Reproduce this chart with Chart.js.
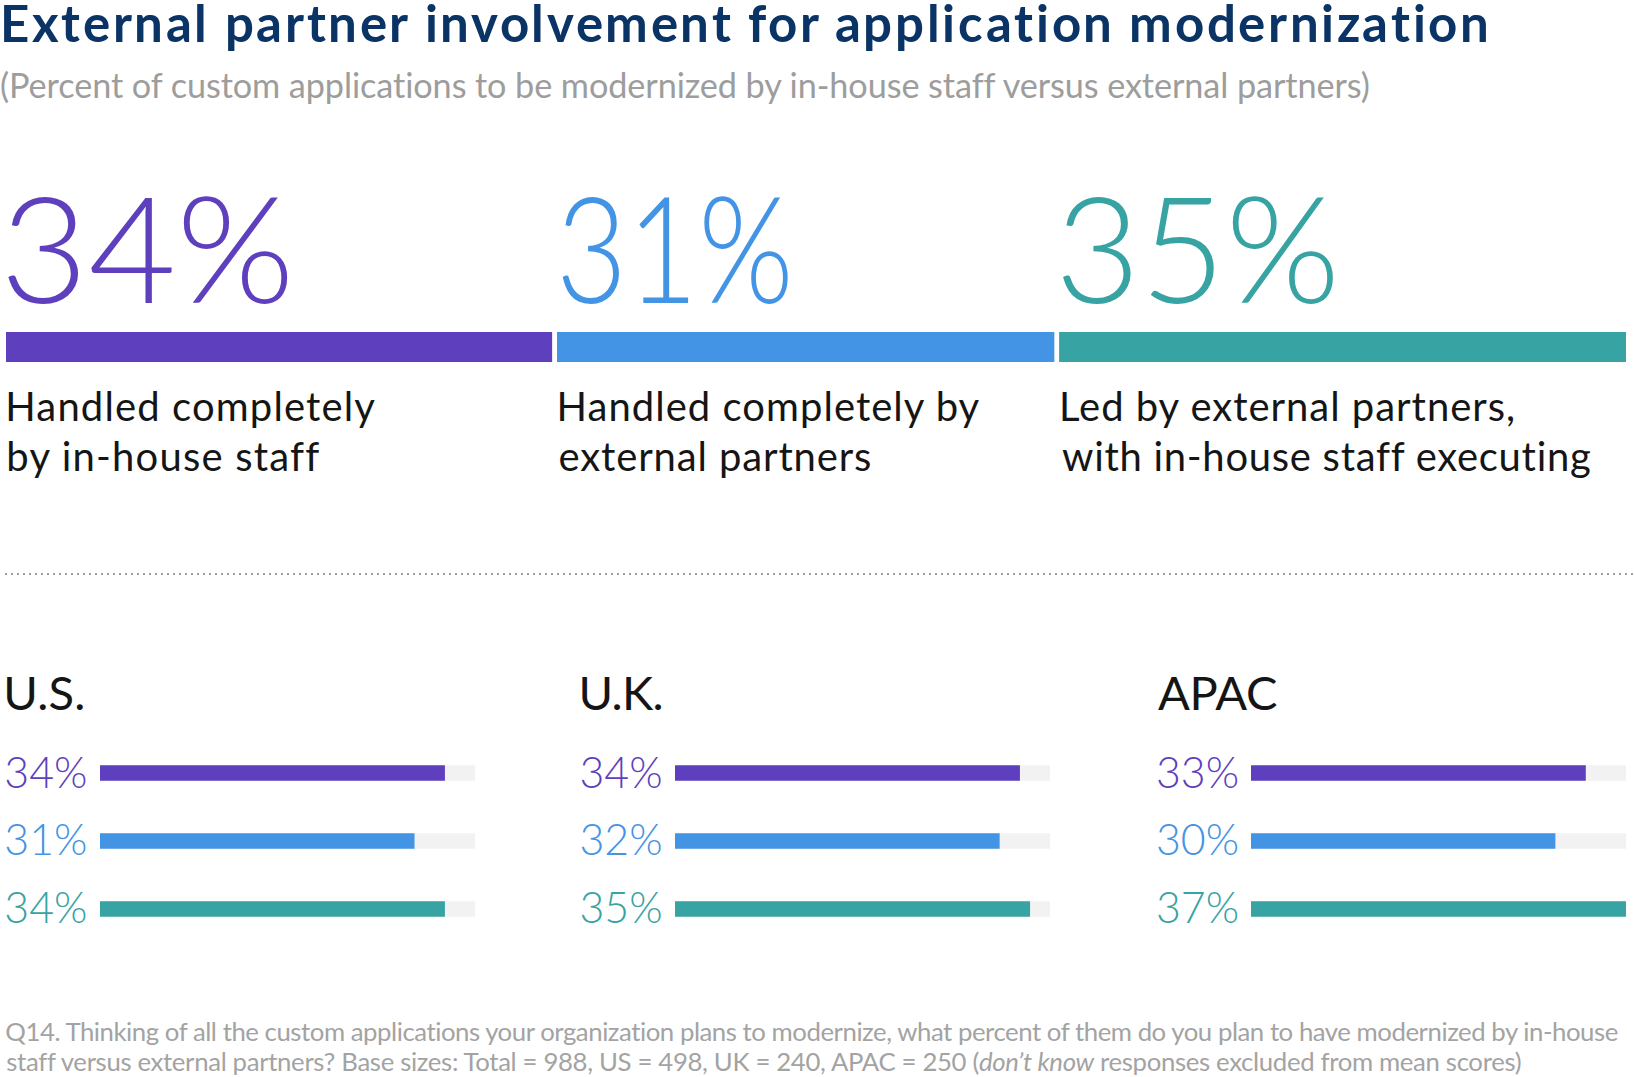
<!DOCTYPE html>
<html><head><meta charset="utf-8">
<script src="https://cdn.jsdelivr.net/npm/chart.js@4.4.1/dist/chart.umd.min.js"></script>
<style>
@font-face{font-family:'LatoTitle';src:local('Lato Bold'),local('Lato-Bold');font-weight:700;ascent-override:66%;descent-override:22%;line-gap-override:0%;}
html,body{margin:0;padding:0;background:#fff;}
#page{position:relative;width:1634px;height:1077px;overflow:hidden;font-family:Lato,sans-serif;background:#fff;}
.t{position:absolute;white-space:nowrap;margin:0;padding:0;transform-origin:0 0;}
canvas{position:absolute;display:block;}
#dots{position:absolute;left:5px;top:573px;width:1629px;height:2px;background:repeating-linear-gradient(to right,#a0a0a0 0 2px,transparent 2px 6px);}
</style></head><body><div id="page"><div id="dots"></div></div>
<script>
// ---------- data ----------
const titleText = "External partner involvement for application modernization";
const subtitleText = "(Percent of custom applications to be modernized by in-house staff versus external partners)";
const categoryLines = [
  ["Handled completely", "by in-house staff"],
  ["Handled completely by", "external partners"],
  ["Led by external partners,", "with in-house staff executing"]
];
const totalValues = [34, 31, 35];
const regionNames = ["U.S.", "U.K.", "APAC"];
const usValues = [34, 31, 34];
const ukValues = [34, 32, 35];
const apacValues = [33, 30, 37];
const trackValues = [37, 37, 37];
const scaleMax = 37;
const seriesColors = ["#5e40be", "#4394e5", "#37a3a3"];
const footnoteLine1 = "Q14. Thinking of all the custom applications your organization plans to modernize, what percent of them do you plan to have modernized by in-house";
const footnoteLine2 = [
  {t: "staff versus external partners? Base sizes: Total = 988, US = 498, UK = 240, APAC = 250 ("},
  {t: "don\u2019t know", i: true},
  {t: " responses excluded from mean scores)"}
];

// ---------- helpers ----------
const page = document.getElementById('page');
const mctx = document.createElement('canvas').getContext('2d');
function place(parts, o) {
  if (typeof parts === 'string') parts = [{t: parts}];
  const full = parts.map(p => p.t).join('');
  const wt = o.weight || 400;
  const fam = o.family || 'Lato';
  const lh = o.lh || 1;
  mctx.font = `${wt} 100px ${fam}`;
  const capR = mctx.measureText(o.capChar || 'H').actualBoundingBoxAscent / 100;
  const fs = o.cap / capR;
  mctx.font = `${wt} ${fs}px ${fam}`;
  const m = mctx.measureText(full);
  const A = m.fontBoundingBoxAscent, D = m.fontBoundingBoxDescent;
  const inkL = -m.actualBoundingBoxLeft;
  let inkW = m.actualBoundingBoxLeft + m.actualBoundingBoxRight;
  if (parts.length > 1) {
    let adv = 0;
    parts.forEach(p => {
      mctx.font = `${p.i ? 'italic ' : ''}${wt} ${fs}px ${fam}`;
      adv += mctx.measureText(p.t).width;
    });
    inkW = adv - inkL;
  }
  const n = [...full].length;
  let ls = 0, sx = 1;
  let left = o.x - inkL;
  let target = o.w;
  if (left < 0) { if (target) target -= -left; left = 0; }
  if (target && o.stretch) sx = target / inkW;
  else if (target) ls = (target - inkW) / (n - 1);
  if (o.stretch) left = Math.max(0, o.x - inkL * sx);
  const el = document.createElement('div');
  el.className = 't';
  el.style.fontFamily = fam;
  el.style.fontWeight = wt;
  el.style.fontSize = fs + 'px';
  el.style.lineHeight = (lh * fs) + 'px';
  el.style.color = o.color || '#151515';
  el.style.letterSpacing = ls + 'px';
  if (sx !== 1) el.style.transform = `scaleX(${sx})`;
  el.style.left = left + 'px';
  el.style.top = (o.base - ((lh * fs - (A + D)) / 2 + A)) + 'px';
  parts.forEach(p => {
    const s = document.createElement('span');
    s.textContent = p.t;
    if (p.i) s.style.fontStyle = 'italic';
    el.appendChild(s);
  });
  page.appendChild(el);
  return el;
}

function addCanvas(left, top, w, h) {
  const c = document.createElement('canvas');
  c.width = w; c.height = h;
  c.style.left = left + 'px'; c.style.top = top + 'px';
  c.style.width = w + 'px'; c.style.height = h + 'px';
  page.appendChild(c);
  return c;
}

const common = {
  indexAxis: 'y', responsive: false, animation: false, events: [],
  plugins: {legend: {display: false}, tooltip: {enabled: false}, title: {display: false}},
  layout: {padding: 0}
};

function build(titleFam) {
  // ---------- texts ----------
  place(titleText, {x: 1, base: 42.7, cap: 36.7, w: 1489, weight: 700, color: '#0b3466', lh: 0.8, family: titleFam});
  place(subtitleText, {x: 1, base: 99, cap: 25, w: 1370, weight: 400, color: '#9d9d9d'});

  const bigX = [8.3, 562.7, 1063];
  const bigW = [279, 225, 270];
  totalValues.forEach((v, i) => {
    place(v + '%', {x: bigX[i], base: 304, cap: 108, w: bigW[i], weight: 300, color: seriesColors[i], capChar: '3', stretch: true});
  });

  const labX = [8.3, 559.6, 1062];
  const labW = [[367, 311], [421, 310.5], [452, 528]];
  categoryLines.forEach((lines, i) => {
    lines.forEach((ln, j) => {
      place(ln, {x: labX[i], base: 421 + j * 50, cap: 29.2, w: labW[i][j], weight: 400, color: '#151515'});
    });
  });

  const regX = [6.3, 581.5, 1158];
  const regW = [77, 80, 119];
  const regionVals = [usValues, ukValues, apacValues];
  regionNames.forEach((r, i) => {
    place(r, {x: regX[i], base: 709.7, cap: 34.4, w: regW[i], weight: 400, color: '#151515'});
    regionVals[i].forEach((v, j) => {
      place(v + '%', {x: regX[i], base: [789, 855.6, 924.3][j], cap: 31.3, weight: 300, color: seriesColors[j], capChar: '3'});
    });
  });

  place(footnoteLine1, {x: 6.3, base: 1042, cap: 18.8, w: 1617, weight: 400, color: '#a3a3a3', capChar: 'T'});
  place(footnoteLine2, {x: 6.3, base: 1071.3, cap: 18.8, w: 1517, weight: 400, color: '#a3a3a3', capChar: 'T', lh: 0.9});

  // ---------- charts ----------
  new Chart(addCanvas(6, 332, 1620, 30), {
    type: 'bar',
    data: {
      labels: ['Total'],
      datasets: totalValues.map((v, i) => ({
        data: [v],
        backgroundColor: seriesColors[i],
        borderColor: '#ffffff',
        borderWidth: {left: 0, top: 0, bottom: 0, right: i < totalValues.length - 1 ? 5 : 0},
        borderSkipped: false,
        barPercentage: 1, categoryPercentage: 1
      }))
    },
    options: Object.assign({}, common, {
      scales: {
        x: {stacked: true, min: 0, max: 100, display: false},
        y: {stacked: true, display: false}
      }
    })
  });

  const regLeft = [100, 675.3, 1250.5];
  regionVals.forEach((vals, i) => {
    new Chart(addCanvas(regLeft[i], 739, 375, 204), {
      type: 'bar',
      data: {
        labels: ['In-house', 'External', 'Led by external'],
        datasets: [
          {data: vals, backgroundColor: seriesColors, borderWidth: 0, barThickness: 15, grouped: false, order: 1},
          {data: trackValues, backgroundColor: '#f2f2f2', borderWidth: 0, barThickness: 15, grouped: false, order: 2}
        ]
      },
      options: Object.assign({}, common, {
        scales: {
          x: {min: 0, max: scaleMax, display: false},
          y: {display: false}
        }
      })
    });
  });
}

(async () => {
  let fam = 'Lato';
  try {
    const r = await document.fonts.load('700 50px LatoTitle');
    if (r && r.length) fam = 'LatoTitle';
  } catch (e) {}
  build(fam);
})();
</script>
</body></html>
